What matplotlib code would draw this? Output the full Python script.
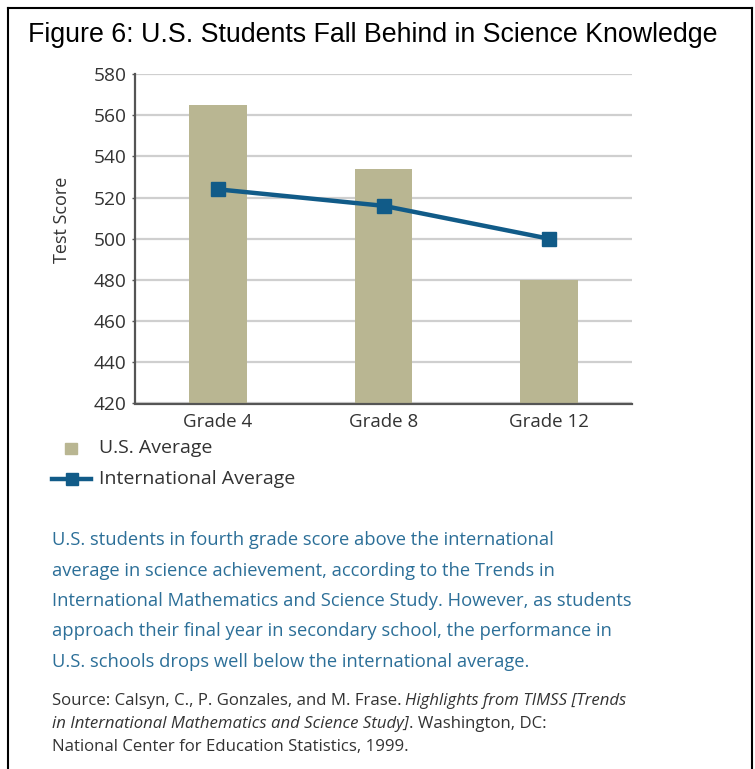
import matplotlib
matplotlib.use("Agg")
import matplotlib.pyplot as plt
from matplotlib.lines import Line2D

# TIMSS science scores by grade
grades = ["Grade 4", "Grade 8", "Grade 12"]
us_avg = [565, 534, 480]
intl_avg = [524, 516, 500]
yticks = [420, 440, 460, 480, 500, 520, 540, 560, 580]

title = "Figure 6: U.S. Students Fall Behind in Science Knowledge"
body = [
    "U.S. students in fourth grade score above the international",
    "average in science achievement, according to the Trends in",
    "International Mathematics and Science Study. However, as students",
    "approach their final year in secondary school, the performance in",
    "U.S. schools drops well below the international average.",
]
# (text, italic) runs for each source line
source = [
    [("Source: Calsyn, C., P. Gonzales, and M. Frase.", False),
     ("Highlights from TIMSS [Trends", True)],
    [("in International Mathematics and Science Study]", True),
     (". Washington, DC:", False)],
    [("National Center for Education Statistics, 1999.", False)],
]

KHAKI = "#b9b692"
NAVY = "#115b88"
BODY_BLUE = "#2c6f98"
INK = "#333333"
GRID = "#cfcfcf"
AXIS = "#555555"
SANS = "Open Sans"

W, H = 755, 769
fig = plt.figure(figsize=(W / 100, H / 100), dpi=100, facecolor="white")


def fx(px):
    return px / W


def fy(py):
    return 1 - py / H


ax = fig.add_axes([fx(135), fy(403.5), fx(632) - fx(135), fy(74) - fy(403.5)])
x = range(len(grades))
ax.bar(x, us_avg, width=0.35, color=KHAKI, zorder=2)
ax.plot(x, intl_avg, color=NAVY, lw=3.2, marker="s", ms=10.5, zorder=3)

ax.set_xlim(-0.5, 2.5)
ax.set_ylim(420, 580)
ax.set_yticks(yticks)
ax.set_xticks(list(x))
ax.set_xticklabels(grades)
ax.grid(axis="y", color=GRID, lw=1.6)
ax.set_axisbelow(True)
for s in ("top", "right"):
    ax.spines[s].set_visible(False)
for s in ("left", "bottom"):
    ax.spines[s].set_color(AXIS)
    ax.spines[s].set_linewidth(1.6)
ax.spines["left"].set_zorder(4)
ax.spines["bottom"].set_zorder(4)
ax.tick_params(axis="y", length=2.5, width=1, color=AXIS, pad=3.5,
               labelsize=13.8, labelcolor=INK)
ax.tick_params(axis="x", length=0, pad=7, labelsize=13.5, labelcolor=INK)
for lab in ax.get_xticklabels() + ax.get_yticklabels():
    lab.set_family(SANS)

fig.text(fx(62), fy(220), "Test Score", rotation=90, ha="center", va="center",
         fontsize=13, color=INK, family=SANS)

fig.text(fx(28), fy(35), title, ha="left", va="center", fontsize=19.3,
         color="black", family="Liberation Sans")

# legend
fig.patches.append(plt.Rectangle((fx(65), fy(454)), fx(12), fy(443) - fy(454),
                                 transform=fig.transFigure, color=KHAKI))
fig.text(fx(99), fy(448), "U.S. Average", ha="left", va="center",
         fontsize=14, color=INK, family=SANS)
fig.lines.append(Line2D([fx(52), fx(91)], [fy(479), fy(479)], color=NAVY, lw=3.2,
                        transform=fig.transFigure))
fig.lines.append(Line2D([fx(71.5)], [fy(479)], color=NAVY, marker="s", ms=9,
                        transform=fig.transFigure))
fig.text(fx(99), fy(479), "International Average", ha="left", va="center",
         fontsize=14, color=INK, family=SANS)

# caption
for i, line in enumerate(body):
    fig.text(fx(52), fy(540 + i * 30.5), line, ha="left", va="center",
             fontsize=13.25, color=BODY_BLUE, family=SANS)

renderer = fig.canvas.get_renderer()
space = 3.8
for i, runs in enumerate(source):
    px = 52
    for j, (txt, ital) in enumerate(runs):
        if j > 0 and not txt.startswith("."):
            px += space
        t = fig.text(fx(px), fy(701 + i * 23), txt, ha="left", va="center",
                     fontsize=12.1, color=INK, family=SANS,
                     style="italic" if ital else "normal")
        px = t.get_window_extent(renderer).x1

# frame: left, top and right edges
for xs, ys in (([7.5, 7.5], [7.5, H]), ([7.5, 752], [7.5, 7.5]),
               ([752, 752], [7.5, H])):
    fig.lines.append(Line2D([fx(v) for v in xs], [fy(v) for v in ys],
                            color="black", lw=1.5, transform=fig.transFigure))

fig.savefig("out.png", dpi=100, facecolor="white")
